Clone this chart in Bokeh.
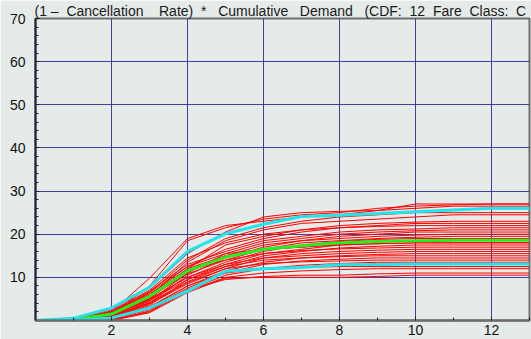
from bokeh.plotting import figure
from bokeh.models import ColumnDataSource, Range1d, FixedTicker, Title
from bokeh.embed import file_html
from bokeh.resources import INLINE

# ---------------- data ----------------
periods = [0, 1, 2, 3, 4, 5, 6, 7, 8, 9, 10, 11, 12, 13]
x_tick_values = [2, 4, 6, 8, 10, 12]
x_minor_values = [1, 3, 5, 7, 9, 11, 13]
y_tick_values = [10, 20, 30, 40, 50, 60, 70]
y_minor_values = [2, 4, 6, 8, 12, 14, 16, 18, 22, 24, 26, 28, 32, 34, 36, 38,
                  42, 44, 46, 48, 52, 54, 56, 58, 62, 64, 66, 68]
NB = "\u00a0"
title_words = ["(1", "\u2013", "Cancellation", "Rate)", "*", "Cumulative",
               "Demand", "(CDF:", "12", "Fare", "Class:", "C"]
title_gaps = [1, 2, 4, 2, 3, 3, 3, 2, 2, 2, 2]
title_text = title_words[0] + "".join(NB * g + w for g, w in zip(title_gaps, title_words[1:]))

r01 = [0, 0.3, 2.0, 9.8, 19.0, 22.0, 23.0, 24.0, 24.5, 25.5, 27.0, 27.0, 27.0, 27.0]
r02 = [0, 0.2, 1.5, 8.0, 18.5, 21.5, 23.5, 24.5, 25.0, 26.0, 26.5, 26.8, 27.0, 27.0]
r03 = [0, 0.4, 2.5, 7.5, 15.5, 20.5, 24.0, 25.0, 25.3, 25.5, 26.0, 26.5, 26.5, 26.5]
r04 = [0, 0.2, 1.8, 6.5, 14.0, 19.0, 21.5, 23.0, 24.0, 24.5, 25.0, 25.0, 25.0, 25.0]
r05 = [0, 0.0, 1.2, 5.5, 13.5, 18.5, 21.0, 22.5, 23.0, 23.5, 24.0, 24.5, 24.5, 24.5]
r06 = [0, 0.3, 2.2, 7.0, 14.5, 18.0, 20.0, 21.0, 22.0, 22.5, 22.8, 23.0, 23.0, 23.0]
r07 = [0, 0.1, 1.0, 5.0, 12.0, 17.5, 19.5, 21.0, 21.5, 22.0, 22.5, 22.5, 22.5, 22.5]
r08 = [0, 0.2, 1.6, 6.0, 12.5, 16.5, 19.0, 20.5, 21.5, 21.8, 22.0, 22.0, 22.0, 22.0]
r09 = [0, 0.3, 2.0, 6.8, 13.0, 16.0, 18.5, 19.5, 20.5, 21.0, 21.2, 21.5, 21.5, 21.5]
r10 = [0, 0.1, 0.8, 4.5, 11.0, 15.5, 18.0, 19.0, 20.0, 20.5, 20.8, 21.0, 21.0, 21.0]
r11 = [0, 0.2, 1.4, 5.8, 12.0, 15.0, 17.5, 18.5, 19.5, 20.0, 20.5, 20.5, 20.5, 20.5]
r12 = [0, 0.0, 0.6, 4.0, 10.5, 14.5, 17.0, 18.5, 19.0, 19.5, 19.8, 20.0, 20.0, 20.0]
r13 = [0, 0.3, 1.9, 6.2, 11.5, 14.0, 16.5, 18.0, 18.5, 19.0, 19.3, 19.5, 19.5, 19.5]
r14 = [0, 0.1, 1.1, 4.8, 10.0, 13.5, 16.0, 17.5, 18.3, 18.8, 19.0, 19.0, 19.0, 19.0]
r15 = [0, 0.2, 1.3, 5.2, 11.2, 15.0, 16.5, 17.0, 17.8, 18.2, 18.5, 18.5, 18.5, 18.5]
r16 = [0, 0.0, 0.5, 3.5, 9.5, 13.0, 15.5, 16.5, 17.5, 17.8, 18.0, 18.0, 18.0, 18.0]
r17 = [0, 0.3, 1.7, 6.5, 12.5, 15.5, 16.5, 17.0, 17.5, 17.8, 18.0, 18.0, 18.0, 18.0]
r18 = [0, 0.1, 0.9, 4.2, 9.0, 12.5, 15.0, 16.0, 16.8, 17.2, 17.5, 17.5, 17.5, 17.5]
r19 = [0, 0.2, 1.5, 5.5, 10.8, 14.0, 15.5, 16.2, 16.6, 16.8, 17.0, 17.0, 17.0, 17.0]
r20 = [0, 0.0, 0.7, 3.8, 8.5, 12.0, 14.5, 15.5, 16.0, 16.3, 16.5, 16.5, 16.5, 16.5]
r21 = [0, 0.2, 1.2, 5.0, 10.0, 13.0, 14.5, 15.0, 15.5, 15.8, 16.0, 16.0, 16.0, 16.0]
r22 = [0, 0.1, 0.8, 3.2, 8.0, 11.5, 13.5, 14.5, 15.0, 15.3, 15.5, 15.5, 15.5, 15.5]
r23 = [0, 0.2, 1.4, 4.6, 9.5, 12.5, 14.0, 14.5, 14.8, 15.0, 15.0, 15.0, 15.0, 15.0]
r24 = [0, 0.0, 0.4, 2.8, 7.5, 11.0, 13.0, 13.8, 14.2, 14.5, 14.5, 14.5, 14.5, 14.5]
r25 = [0, 0.1, 1.0, 4.0, 8.8, 12.0, 13.2, 13.6, 13.8, 14.0, 14.0, 14.0, 14.0, 14.0]
r26 = [0, 0.0, 0.3, 2.5, 7.0, 10.5, 12.0, 12.8, 13.2, 13.5, 13.5, 13.5, 13.5, 13.5]
r27 = [0, 0.1, 0.6, 3.0, 8.0, 11.0, 12.0, 12.3, 12.5, 12.5, 12.5, 12.5, 12.5, 12.5]
r28 = [0, 0.0, 0.2, 2.0, 6.8, 10.0, 11.0, 11.5, 11.8, 12.0, 12.0, 12.0, 12.0, 12.0]
r29 = [0, 0.0, 0.0, 2.2, 7.2, 9.5, 10.2, 10.5, 10.5, 10.8, 11.0, 11.0, 11.0, 11.0]
r30 = [0, 0.0, 0.0, 1.8, 6.5, 9.8, 10.0, 10.0, 10.0, 10.2, 10.5, 10.5, 10.5, 10.5]

mean_curve = [0, 0.2, 1.5, 5.6, 11.5, 14.7, 16.5, 17.3, 18.0, 18.3, 18.5, 18.6, 18.6, 18.6]
upper_curve = [0, 0.5, 2.9, 7.7, 16.0, 20.1, 22.3, 24.1, 24.4, 24.8, 25.2, 25.6, 26.0, 26.0]
lower_curve = [0, 0.0, 0.6, 2.9, 6.8, 11.4, 12.0, 12.3, 12.9, 13.0, 13.1, 13.1, 13.1, 13.1]

scenarios = [r01, r02, r03, r04, r05, r06, r07, r08, r09, r10,
             r11, r12, r13, r14, r15, r16, r17, r18, r19, r20,
             r21, r22, r23, r24, r25, r26, r27, r28, r29, r30]

# ---------------- figure ----------------
BG = "#e4ebe8"
FONT = "Liberation Sans"

p = figure(width=531, height=339, output_backend="svg", toolbar_location=None,
           x_range=Range1d(0, 13), y_range=Range1d(0, 70),
           min_border_left=35, min_border_right=2, min_border_top=0, min_border_bottom=19)
p.background_fill_color = BG
p.border_fill_color = BG
p.outline_line_color = "#707070"
p.outline_line_width = 2

src = ColumnDataSource(dict(xs=[periods] * len(scenarios), ys=scenarios))
p.multi_line("xs", "ys", source=src, line_color="#ff0000", line_width=1)
p.line(periods, mean_curve, line_color="#22ee22", line_width=3)
p.line(periods, upper_curve, line_color="#22e4ea", line_width=3)
p.line(periods, lower_curve, line_color="#22e4ea", line_width=3)

# axes
xa = p.xaxis[0]
xa.ticker = FixedTicker(ticks=x_tick_values, minor_ticks=x_minor_values)
xa.axis_line_color = "#707070"
xa.axis_line_width = 2.5
xa.major_tick_in = 4
xa.major_tick_out = 0
xa.minor_tick_in = 3
xa.minor_tick_out = 0
xa.major_tick_line_color = "#222222"
xa.minor_tick_line_color = "#222222"
xa.major_label_standoff = 4
xa.major_label_text_font = FONT
xa.major_label_text_font_size = "14px"
xa.major_label_text_color = "#111111"

ya = p.yaxis[0]
ya.ticker = FixedTicker(ticks=y_tick_values, minor_ticks=y_minor_values)
ya.axis_line_color = "#22223a"
ya.axis_line_width = 2
ya.major_tick_in = 4
ya.major_tick_out = 0
ya.minor_tick_in = 3
ya.minor_tick_out = 0
ya.major_tick_line_color = "#222222"
ya.minor_tick_line_color = "#222222"
ya.major_label_standoff = 10
ya.major_label_text_font = FONT
ya.major_label_text_font_size = "14px"
ya.major_label_text_color = "#111111"

p.xgrid.ticker = FixedTicker(ticks=x_tick_values)
p.ygrid.ticker = FixedTicker(ticks=y_tick_values)
for g in (p.xgrid[0], p.ygrid[0]):
    g.grid_line_color = "#23238c"
    g.grid_line_width = 1
    g.grid_line_alpha = 0.85

title = Title(text=title_text, text_font=FONT, text_font_size="14px",
              text_font_style="normal", text_color="#1a1a1a",
              align="left", offset=-1, standoff=0, text_line_height=1.0,
              vertical_align="bottom")
p.add_layout(title, "above")

open("out.html", "w").write(file_html(p, INLINE))
